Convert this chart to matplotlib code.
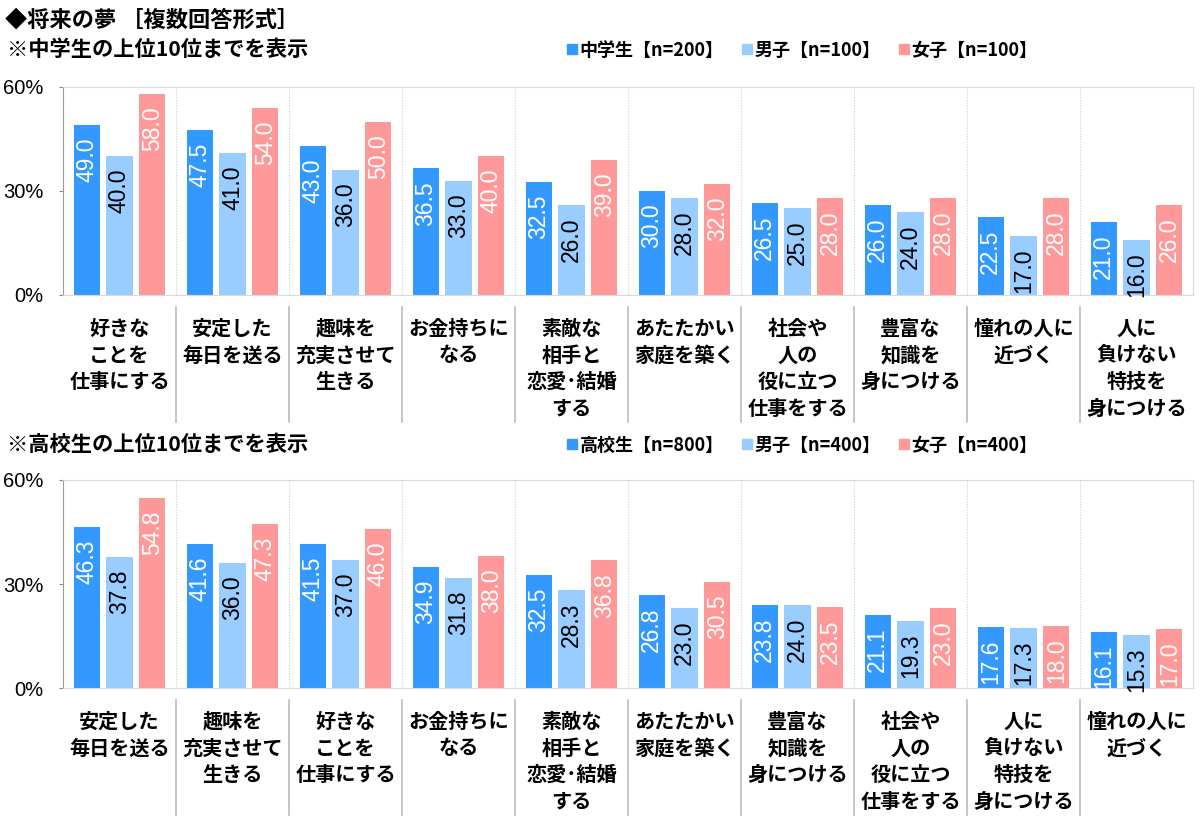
import numpy as np
import matplotlib.pyplot as plt
from matplotlib.lines import Line2D

plt.rcParams['font.family'] = ['Noto Sans CJK JP', 'DejaVu Sans']

# ── Data ──────────────────────────────────────────────────────────────────
jhs_labels = ["好きな\nことを\n仕事にする", "安定した\n毎日を送る", "趣味を\n充実させて\n生きる",
              "お金持ちに\nなる", "素敵な\n相手と\n恋愛･結婚\nする", "あたたかい\n家庭を築く",
              "社会や\n人の\n役に立つ\n仕事をする", "豊富な\n知識を\n身につける",
              "憧れの人に\n近づく", "人に\n負けない\n特技を\n身につける"]
jhs_all  = [49.0, 47.5, 43.0, 36.5, 32.5, 30.0, 26.5, 26.0, 22.5, 21.0]
jhs_boy  = [40.0, 41.0, 36.0, 33.0, 26.0, 28.0, 25.0, 24.0, 17.0, 16.0]
jhs_girl = [58.0, 54.0, 50.0, 40.0, 39.0, 32.0, 28.0, 28.0, 28.0, 26.0]
jhs_legend = ["中学生【n=200】", "男子【n=100】", "女子【n=100】"]

hs_labels = ["安定した\n毎日を送る", "趣味を\n充実させて\n生きる", "好きな\nことを\n仕事にする",
             "お金持ちに\nなる", "素敵な\n相手と\n恋愛･結婚\nする", "あたたかい\n家庭を築く",
             "豊富な\n知識を\n身につける", "社会や\n人の\n役に立つ\n仕事をする",
             "人に\n負けない\n特技を\n身につける", "憧れの人に\n近づく"]
hs_all  = [46.3, 41.6, 41.5, 34.9, 32.5, 26.8, 23.8, 21.1, 17.6, 16.1]
hs_boy  = [37.8, 36.0, 37.0, 31.8, 28.3, 23.0, 24.0, 19.3, 17.3, 15.3]
hs_girl = [54.8, 47.3, 46.0, 38.0, 36.8, 30.5, 23.5, 23.0, 18.0, 17.0]
hs_legend = ["高校生【n=800】", "男子【n=400】", "女子【n=400】"]

colors      = ['#3399FF', '#99CCFF', '#FF9999']
text_colors = ['white', 'black', 'white']

W, H = 1200, 817
fig = plt.figure(figsize=(W / 100, H / 100), dpi=100)


def fy(px):
    return 1 - px / H


def panel(top_px, bottom_px, labels, series, legend_labels, sub_title, sub_y):
    ax = fig.add_axes([63 / W, fy(bottom_px), (1193 - 63) / W, (bottom_px - top_px) / H])
    n = len(labels)
    x = np.arange(n)
    step, bw = 0.29, 0.234
    for i, (vals, c, tc) in enumerate(zip(series, colors, text_colors)):
        xs = x + (i - 1) * step
        ax.bar(xs, vals, width=bw, color=c, zorder=2)
        for xi, v in zip(xs, vals):
            ax.annotate(f"{v:.1f}", xy=(xi, v), xytext=(0, -9), textcoords='offset points',
                        rotation=90, ha='center', va='top', color=tc,
                        fontsize=16.5, family='Liberation Sans', zorder=3)
    ax.set_xlim(-0.5, n - 0.5)
    ax.set_ylim(0, 60)
    ax.set_yticks([0, 30, 60])
    ax.set_yticklabels(["0%", "30%", "60%"], family='Liberation Sans', fontsize=14.5)
    ax.tick_params(axis='y', length=3, pad=11, color='#888888')
    ax.set_xticks([])
    for s in ['top', 'right', 'bottom']:
        ax.spines[s].set_color('#d9d9d9')
    ax.spines['left'].set_color('#999999')
    for b in np.arange(0.5, n - 0.5, 1):
        ax.axvline(b, color='#cccccc', lw=0.8, ls=(0, (1, 1.5)), zorder=1)
        # solid separators under the axis among the category labels
        ax.plot([b, b], [-3.5, -36.5], color='#bbbbbb', lw=1.2, clip_on=False)
    for xi, lab in zip(x, labels):
        ax.text(xi, -6.6, lab, ha='center', va='top', fontsize=14.5, fontweight='bold',
                linespacing=1.33)

    fig.text(7 / W, fy(sub_y), sub_title, fontsize=15.3, fontweight='bold', va='center')
    handles = [Line2D([0], [0], marker='s', ls='', markersize=7, color=c) for c in colors]
    fig.legend(handles, legend_labels, loc='center left',
               bbox_to_anchor=(556 / W, fy(sub_y + 1)), ncol=3, frameon=False,
               borderpad=0, handletextpad=0.0, columnspacing=0.9, handlelength=0.8,
               prop={'family': 'Noto Sans CJK JP', 'weight': 'bold', 'size': 13})
    return ax


fig.text(5 / W, fy(20), "◆将来の夢 ［複数回答形式］", fontsize=16, fontweight='bold', va='center')
panel(87, 295, jhs_labels, [jhs_all, jhs_boy, jhs_girl], jhs_legend,
      "※中学生の上位10位までを表示", 49)
panel(480, 688, hs_labels, [hs_all, hs_boy, hs_girl], hs_legend,
      "※高校生の上位10位までを表示", 444)

plt.savefig("out.png", dpi=100)
